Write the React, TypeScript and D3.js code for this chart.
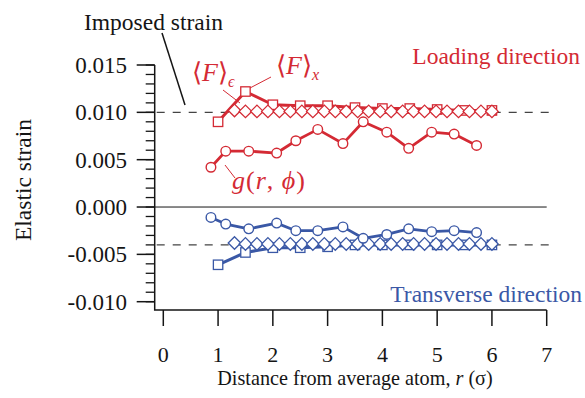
import * as d3 from "d3";

// ── Data ───────────────────────────────────────────────────
const R_SQUARE = [1, 1.5, 2, 2.5, 3, 3.5, 4, 4.5, 5, 5.5, 6];
const LOAD_SQUARE = [0.009, 0.0122, 0.0108, 0.0107, 0.0107, 0.0105, 0.0104, 0.0104, 0.0103, 0.0102, 0.0102];
const TRANS_SQUARE = [-0.0061, -0.0048, -0.0043, -0.0043, -0.0042, -0.004, -0.004, -0.004, -0.004, -0.004, -0.004];

const R_DIAMOND = [1.3, 1.5, 1.71, 1.91, 2.12, 2.32, 2.53, 2.73, 2.94, 3.14, 3.34, 3.55,
  3.75, 3.96, 4.16, 4.37, 4.57, 4.77, 4.98, 5.18, 5.39, 5.59, 5.8, 6.0];
const LOAD_DIAMOND = [0.0102, 0.0101, 0.0101, 0.0101, 0.0101, 0.0101, 0.0101, 0.0101, 0.0101, 0.0101, 0.0101, 0.0101,
  0.0101, 0.0101, 0.0101, 0.0101, 0.0101, 0.0101, 0.0101, 0.0101, 0.0101, 0.0101, 0.0101, 0.0101];
const TRANS_DIAMOND = [-0.0038, -0.0039, -0.0039, -0.0039, -0.0039, -0.0039, -0.0039, -0.0039, -0.0039, -0.0039, -0.0039, -0.0039,
  -0.0039, -0.0039, -0.0039, -0.0039, -0.0039, -0.0039, -0.0039, -0.0039, -0.0039, -0.0039, -0.0039, -0.0039];

const R_CIRCLE = [0.87, 1.14, 1.56, 2.07, 2.42, 2.82, 3.28, 3.65, 4.08, 4.48, 4.9, 5.31, 5.72];
const LOAD_CIRCLE = [0.0042, 0.0059, 0.0059, 0.0057, 0.007, 0.0082, 0.0067, 0.009, 0.0079, 0.0062, 0.0079, 0.0077, 0.0065];
const TRANS_CIRCLE = [-0.0011, -0.0018, -0.0023, -0.0017, -0.0025, -0.0025, -0.0021, -0.0033, -0.0029, -0.0023, -0.0026, -0.0025, -0.0027];

const IMPOSED = [0.01, -0.004];

const X_TICKS = [0, 1, 2, 3, 4, 5, 6, 7];
const Y_TICKS = [0.015, 0.01, 0.005, 0, -0.005, -0.01];
const Y_TICK_LABELS = ["0.015", "0.010", "0.005", "0.000", "-0.005", "-0.010"];

// ── Layout ─────────────────────────────────────────────────
const W = 585;
const H = 398;
const RED = "#d42a34";
const BLUE = "#3a58a6";
const INK = "#151515";
const FONT = "'Liberation Serif', 'Times New Roman', serif";

const x = d3.scaleLinear().domain([0, 7]).range([163.3, 546.7]);
const y = d3.scaleLinear().domain([-0.01, 0.015]).range([301.7, 65]);
const axisX = 154.7; // left spine
const axisY = 310; // bottom spine

const minorTicks = d3.range(-10, 16).map((v) => v / 1000);

type Pt = [number, number];
const zip = (rs: number[], vs: number[]): Pt[] => rs.map((r, i) => [r, vs[i]]);
const line = d3.line<Pt>().x((d) => x(d[0])).y((d) => y(d[1]));

function Series({ pts, color, shape, lw }: { pts: Pt[]; color: string; shape: string; lw: number }) {
  return (
    <g>
      <path d={line(pts) ?? ""} fill="none" stroke={color} strokeWidth={lw} strokeLinejoin="round" />
      {pts.map((d, i) => {
        const cx = x(d[0]);
        const cy = y(d[1]);
        if (shape === "circle")
          return <circle key={i} cx={cx} cy={cy} r={4.8} fill="white" stroke={color} strokeWidth={1.4} />;
        if (shape === "square")
          return <rect key={i} x={cx - 4.7} y={cy - 4.7} width={9.4} height={9.4} fill="white" stroke={color} strokeWidth={1.3} />;
        const s = 6.3;
        return (
          <path key={i} d={`M${cx},${cy - s}L${cx + s},${cy}L${cx},${cy + s}L${cx - s},${cy}Z`}
            fill="white" stroke={color} strokeWidth={1.3} />
        );
      })}
    </g>
  );
}

export default function App() {
  return (
    <svg width={W} height={H} style={{ position: "absolute", left: 0, top: 0, background: "white" }}
      fontFamily={FONT}>
      {/* imposed strain dashed lines */}
      {IMPOSED.map((v) => (
        <line key={v} x1={axisX + 2} x2={555} y1={y(v)} y2={y(v)}
          stroke="#444" strokeWidth={1.4} strokeDasharray="8 8" />
      ))}
      {/* zero line */}
      <line x1={axisX} x2={x(7)} y1={y(0)} y2={y(0)} stroke={INK} strokeWidth={1} />

      {/* axes */}
      <path d={`M${axisX},${y(0.015)}V${axisY}H${x(7)}`} fill="none" stroke={INK} strokeWidth={1.5} />
      {minorTicks.map((v) => (
        <line key={v} x1={axisX - 9} x2={axisX} y1={y(v)} y2={y(v)} stroke={INK} strokeWidth={1.3} />
      ))}
      {Y_TICKS.map((v, i) => (
        <g key={v}>
          <line x1={axisX - 18} x2={axisX} y1={y(v)} y2={y(v)} stroke={INK} strokeWidth={1.5} />
          <text x={127} y={y(v) + 8} textAnchor="end" fontSize={23} fill={INK}>{Y_TICK_LABELS[i]}</text>
        </g>
      ))}
      {X_TICKS.map((v) => (
        <g key={v}>
          <line x1={x(v)} x2={x(v)} y1={axisY} y2={axisY + 16} stroke={INK} strokeWidth={1.5} />
          <text x={x(v)} y={362} textAnchor="middle" fontSize={22} fill={INK}>{v}</text>
        </g>
      ))}
      <text x={(x(0) + x(7)) / 2} y={385} textAnchor="middle" fontSize={20.2} fill={INK}>
        Distance from average atom, <tspan fontStyle="italic">r</tspan> (σ)
      </text>
      <text transform="translate(31,180) rotate(-90)" textAnchor="middle" fontSize={23.5} fill={INK}>
        Elastic strain
      </text>

      {/* series: squares below diamonds */}
      <Series pts={zip(R_SQUARE, LOAD_SQUARE)} color={RED} shape="square" lw={3} />
      <Series pts={zip(R_DIAMOND, LOAD_DIAMOND)} color={RED} shape="diamond" lw={1} />
      <Series pts={zip(R_CIRCLE, LOAD_CIRCLE)} color={RED} shape="circle" lw={2.8} />
      <Series pts={zip(R_SQUARE, TRANS_SQUARE)} color={BLUE} shape="square" lw={3} />
      <Series pts={zip(R_DIAMOND, TRANS_DIAMOND)} color={BLUE} shape="diamond" lw={1} />
      <Series pts={zip(R_CIRCLE, TRANS_CIRCLE)} color={BLUE} shape="circle" lw={2.8} />

      {/* annotations */}
      <text x={153.5} y={30} textAnchor="middle" fontSize={23.5} fill={INK}>Imposed strain</text>
      <line x1={162} y1={33} x2={185} y2={105} stroke={INK} strokeWidth={1.5} />

      <text x={192} y={81} fontSize={26} fill={RED}>
        ⟨<tspan fontStyle="italic">F</tspan>⟩<tspan fontSize={16} dy={6} fontStyle="italic">ϵ</tspan>
      </text>
      <line x1={223} y1={90} x2={240} y2={103} stroke={RED} strokeWidth={1} />

      <text x={276} y={74} fontSize={26} fill={RED}>
        ⟨<tspan fontStyle="italic">F</tspan>⟩<tspan fontSize={16} dy={6} fontStyle="italic">x</tspan>
      </text>
      <line x1={250} y1={88} x2={271} y2={77} stroke={RED} strokeWidth={1} />

      <text x={232} y={189} fontSize={26} fill={RED} letterSpacing={1}>
        <tspan fontStyle="italic">g</tspan>(<tspan fontStyle="italic">r</tspan>, <tspan fontStyle="italic">ϕ</tspan>)
      </text>
      <line x1={225} y1={165} x2={235} y2={178} stroke={RED} strokeWidth={1} />

      <text x={580} y={64} textAnchor="end" fontSize={23.5} fill={RED}>Loading direction</text>
      <text x={582} y={302} textAnchor="end" fontSize={23.5} fill={BLUE}>Transverse direction</text>
    </svg>
  );
}
